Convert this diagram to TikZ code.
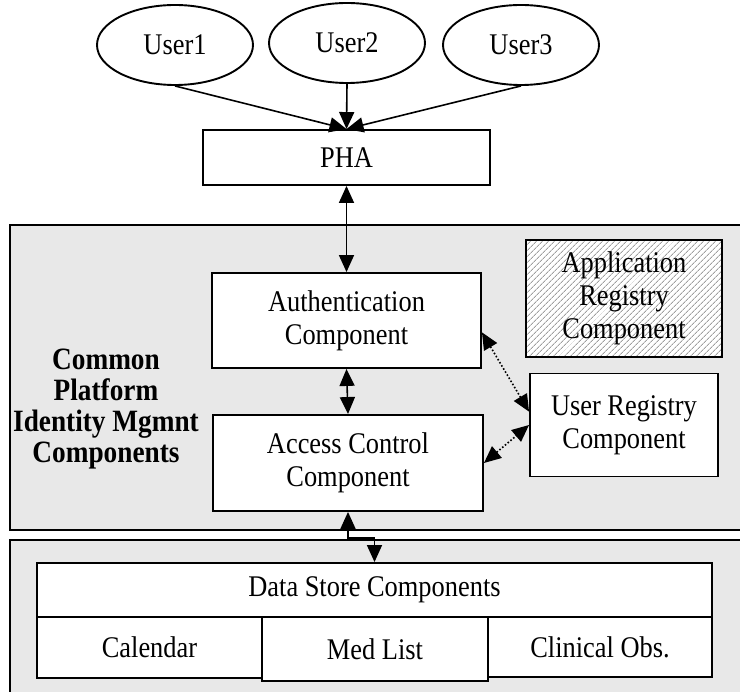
\documentclass[tikz,border=0pt]{standalone}
\usepackage{fontspec}
\setmainfont{Liberation Serif}[FakeStretch=0.88]
\usepackage{xcolor}
\usetikzlibrary{shapes.geometric,arrows.meta,patterns.meta}
\definecolor{panelgray}{HTML}{E8E8E8}
\begin{document}
\begin{tikzpicture}[x=1pt, y=-1pt, inner sep=3pt, line width=1.9pt,
		font=\fontsize{30}{33}\selectfont]
		\tikzstyle{every node}=[align=center]
		\tikzstyle{comp}=[draw, fill=white, line width=1.9pt]
		\tikzstyle{user}=[draw, ellipse, fill=white, line width=1.9pt, minimum width=156, minimum height=80]
		\tikzstyle{arr}=[line width=1.6pt, -{Triangle[length=17pt, width=15pt]}]
		\tikzstyle{biarr}=[line width=1.6pt, {Triangle[length=17pt, width=15pt]}-{Triangle[length=17pt, width=15pt]}]
		\tikzstyle{dotarr}=[line width=1.6pt, dotted, {Triangle[length=17pt, width=15pt]}-{Triangle[length=17pt, width=15pt]}]
			\clip (0, 0) rectangle (740, 692);

			\draw[fill=panelgray] (10, 225) rectangle (770, 530);
			\draw[fill=panelgray] (10, 540) rectangle (770, 720);

			\node[user] (user1) at (175, 45) {User1};
			\node[user] (user2) at (347, 43) {User2};
			\node[user] (user3) at (521, 45) {User3};
			\node[comp, minimum width=287, minimum height=55] (pha) at (346.5, 157.5) {PHA};

			\node[comp, minimum width=269, minimum height=95] (auth) at (346.5, 320.5) {Authentication\\Component};
			\node[comp, minimum width=270, minimum height=96] (access) at (348, 463) {Access Control\\Component};
			\node[draw, line width=1.9pt, minimum width=196, minimum height=117,
				preaction={fill=white}, pattern={Lines[angle=45, distance=4pt, line width=0.9pt]}, pattern color=gray!75]
				(appreg) at (624, 298.5) {Application\\Registry\\Component};
			\node[comp, minimum width=188, minimum height=103] (userreg) at (624, 425) {User Registry\\Component};
			\node[font=\fontsize{31}{31}\selectfont\bfseries] (cpid) at (106, 409) {Common\\Platform\\Identity Mgmnt\\Components};

			\node[comp, minimum width=675, minimum height=54] (store) at (374.5, 590) {Data Store Components};
			\node[comp, minimum width=225, minimum height=61] (calendar) at (149.5, 647.5) {Calendar};
			\node[comp, minimum width=226, minimum height=64] (medlist) at (375, 649) {Med List};
			\node[comp, minimum width=224, minimum height=60] (clinical) at (600, 647) {Clinical Obs.};

			\draw[arr] (user1.south) -- (pha.north);
			\draw[arr] (user2.south) -- (pha.north);
			\draw[arr] (user3.south) -- (pha.north);
			\draw[biarr] (pha.south) -- (auth.north);
			\draw[biarr] (auth.south) -- (access.north);
			\draw[dotarr] (auth.-5) -- (userreg.172);
			\draw[dotarr] (access.east) -- (userreg.west);
			\draw[biarr] (access.south) -- ++(0, 26) -| (store.north);
		\end{tikzpicture}
\end{document}
